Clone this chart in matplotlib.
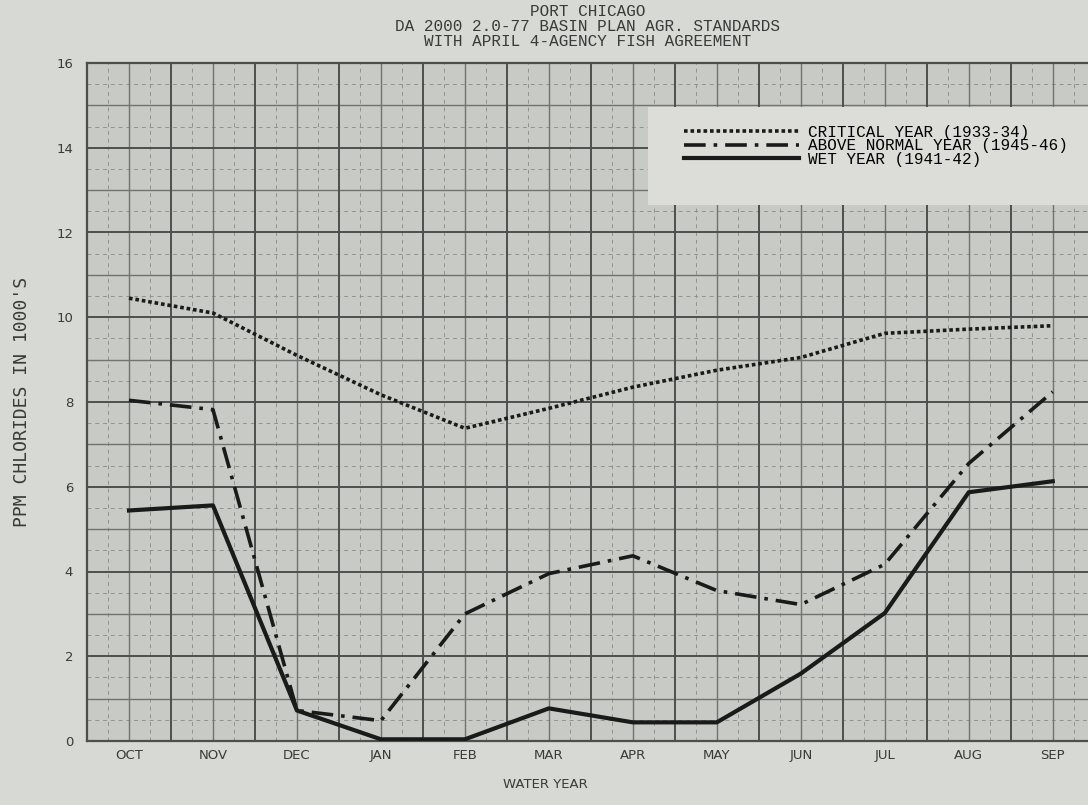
import numpy as np
import matplotlib
matplotlib.use("Agg")
import matplotlib.pyplot as plt
from matplotlib.patches import Rectangle

months = ["OCT", "NOV", "DEC", "JAN", "FEB", "MAR", "APR", "MAY", "JUN", "JUL", "AUG", "SEP"]

# ppm chlorides in 1000's
critical = [10.45, 10.1, 9.1, 8.17, 7.38, 7.85, 8.35, 8.75, 9.05, 9.62, 9.72, 9.8]
above_normal = [8.04, 7.82, 0.72, 0.48, 3.0, 3.95, 4.37, 3.55, 3.22, 4.17, 6.55, 8.24]
wet = [5.44, 5.56, 0.72, 0.04, 0.04, 0.77, 0.44, 0.44, 1.59, 3.02, 5.87, 6.13]

title_lines = ["PORT CHICAGO",
               "DA 2000 2.0-77 BASIN PLAN AGR. STANDARDS",
               "WITH APRIL 4-AGENCY FISH AGREEMENT"]

PAGE = "#d7d9d4"
PLOT_BG = "#c8cac5"
DARK = "#4e4e4e"
MID = "#727272"
FAINT = "#929292"
TXT = "#3a3a3a"

W, H = 1088, 805
fig = plt.figure(figsize=(W / 100, H / 100), dpi=100, facecolor=PAGE)
# axes box in pixels: left 87, right at figure edge, top 63, bottom 741
ax = fig.add_axes([87 / W, (H - 741) / H, 1 - 87 / W, (741 - 63) / H])
ax.set_facecolor(PLOT_BG)

x = np.arange(len(months))
ax.set_xlim(-0.5, 11.42)
ax.set_ylim(0, 16)

# graph paper grid
for v in np.arange(-0.25, 12, 0.5):
    ax.axvline(v, color=FAINT, lw=0.7, ls=(0, (4, 4)), zorder=1)
for v in np.arange(0.5, 16, 1):
    ax.axhline(v, color=FAINT, lw=0.7, ls=(0, (4, 4)), zorder=1)
for v in x:
    ax.axvline(v, color=MID, lw=1.0, zorder=1.5)
for v in range(1, 16, 2):
    ax.axhline(v, color=MID, lw=1.0, zorder=1.5)
for v in np.arange(-0.5, 12, 1):
    ax.axvline(v, color=DARK, lw=1.4, zorder=2)
for v in range(0, 17, 2):
    ax.axhline(v, color=DARK, lw=1.4, zorder=2)

l1, = ax.plot(x, critical, color="#1a1a1a", lw=2.6, ls=(0, (1, 0.8)), zorder=5,
              label="CRITICAL YEAR (1933-34)")
l2, = ax.plot(x, above_normal, color="#1a1a1a", lw=2.6, ls=(0, (6, 2.2, 1, 2.2)), zorder=5,
              label="ABOVE NORMAL YEAR (1945-46)")
l3, = ax.plot(x, wet, color="#1a1a1a", lw=3.0, ls="-", zorder=5,
              label="WET YEAR (1941-42)")

# lighter legend panel
ax.add_patch(Rectangle((0.56, 0.79), 0.45, 0.145, transform=ax.transAxes,
                       facecolor="#dcddd9", edgecolor="none", zorder=3))
leg = ax.legend(handles=[l1, l2, l3], loc="upper left", bbox_to_anchor=(0.585, 0.925),
                frameon=False, handlelength=7.2, handletextpad=0.6, labelspacing=-0.1,
                borderpad=0.2, prop={"family": ["Liberation Mono", "DejaVu Sans Mono"], "size": 11.5})
leg.set_zorder(6)

ax.set_xticks(x)
ax.set_xticklabels(months)
ax.set_yticks(range(0, 17, 2))
ax.tick_params(length=0, colors=TXT)
ax.tick_params(axis="x", pad=6)
ax.tick_params(axis="y", pad=10)
for lab in ax.get_xticklabels() + ax.get_yticklabels():
    lab.set_family(["DejaVu Sans"])
    lab.set_fontsize(9.5)

ax.set_xlabel("WATER YEAR", fontsize=9.5, color=TXT, family=["DejaVu Sans"])
ax.xaxis.set_label_coords((545 - 87) / (W - 87), -0.055)
ax.set_ylabel("PPM CHLORIDES IN 1000'S", fontsize=13, color=TXT,
              family=["DejaVu Sans Mono"])
ax.yaxis.set_label_coords(-0.056, 0.5)

for side in ["left", "bottom", "top"]:
    ax.spines[side].set_color(DARK)
    ax.spines[side].set_linewidth(1.6)
ax.spines["right"].set_visible(False)

for i, line in enumerate(title_lines):
    fig.text(0.54, 1 - (12 + 14.5 * i) / H, line, ha="center", va="center",
             fontsize=11.5, color=TXT, family=["Liberation Mono", "DejaVu Sans Mono"])

fig.savefig("out.png", dpi=100, facecolor=PAGE)
